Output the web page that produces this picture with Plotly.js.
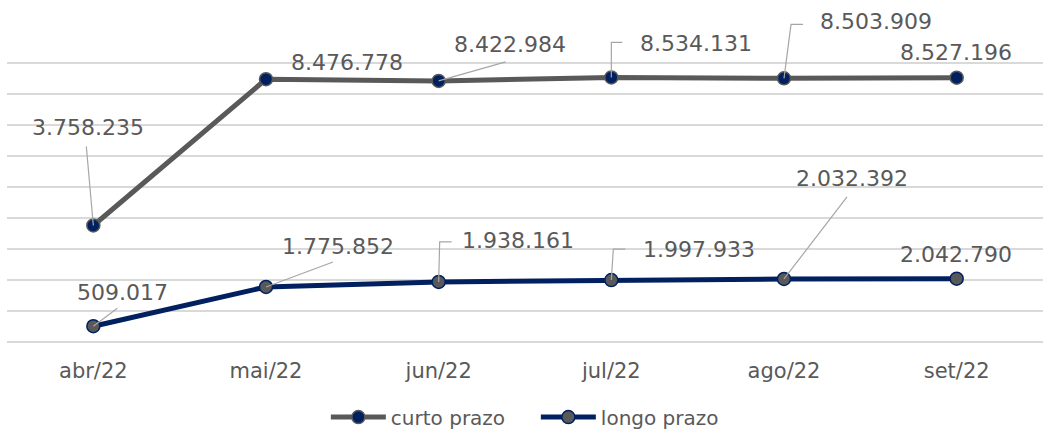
<!DOCTYPE html>
<html>
<head>
<meta charset="utf-8">
<script src="https://cdn.plot.ly/plotly-3.0.1.min.js"></script>
<style>html,body{margin:0;padding:0;background:#fff;}#chart{width:1059px;height:430px;}</style>
</head>
<body>
<div id="chart"></div>
<script>
const categories = ["abr/22", "mai/22", "jun/22", "jul/22", "ago/22", "set/22"];
const curtoPrazo = [3758235, 8476778, 8422984, 8534131, 8503909, 8527196];
const longoPrazo = [509017, 1775852, 1938161, 1997933, 2032392, 2042790];
const seriesNames = ["curto prazo", "longo prazo"];
const gridValues = [0, 1000000, 2000000, 3000000, 4000000, 5000000, 6000000, 7000000, 8000000, 9000000];

// label offsets (pixels) relative to each point
const curtoLabelShift = [[-5, 98], [81, 17], [71, 36], [85, 34], [92, 57], [-1, 25]];
const longoLabelShift = [[29, 34], [72, 40], [79, 41], [88, 31], [68, 100], [-1, 24]];
// leader line paths (pixels, relative to point); null = none
const curtoLeaders = ["M0,0 L-7,79", null, "M0,0 L67,19", "M0,0 L0,35 L11,35", "M0,0 L7,54 L19,54", null];
const longoLeaders = ["M0,0 L24,18", "M0,0 L67,25", "M0,0 L1,40 L13,40", "M0,0 L2,31 L14,31", "M0,0 L63,82", null];

const GRAY = "#595959", NAVY = "#002060";
const FONT = "DejaVu Sans";

function fmt(v) {
  return String(v).replace(/\B(?=(\d{3})+(?!\d))/g, ".");
}

const traces = [
  {
    x: categories, y: curtoPrazo, name: seriesNames[0], type: "scatter", mode: "lines+markers",
    line: {color: GRAY, width: 5},
    marker: {color: NAVY, size: 13, line: {color: GRAY, width: 1.5}},
    hoverinfo: "skip"
  },
  {
    x: categories, y: longoPrazo, name: seriesNames[1], type: "scatter", mode: "lines+markers",
    line: {color: NAVY, width: 5},
    marker: {color: GRAY, size: 13, line: {color: NAVY, width: 1.5}},
    hoverinfo: "skip"
  }
];

const annotations = [];
const shapes = [];
function addLabels(vals, shifts, leaders) {
  vals.forEach((v, i) => {
    annotations.push({
      x: categories[i], y: v, xref: "x", yref: "y", text: fmt(v), showarrow: false,
      xshift: shifts[i][0], yshift: shifts[i][1], xanchor: "center", yanchor: "middle",
      font: {family: FONT, size: 22, color: GRAY}
    });
    if (leaders[i]) {
      shapes.push({
        type: "path", xref: "x", yref: "y", xsizemode: "pixel", ysizemode: "pixel",
        xanchor: i, yanchor: v, path: leaders[i],
        line: {color: "#a6a6a6", width: 1.2}, layer: "above"
      });
    }
  });
}
addLabels(curtoPrazo, curtoLabelShift, curtoLeaders);
addLabels(longoPrazo, longoLabelShift, longoLeaders);

const layout = {
  width: 1059, height: 430,
  margin: {l: 7, r: 16, t: 0, b: 88},
  paper_bgcolor: "#ffffff", plot_bgcolor: "#ffffff",
  showlegend: true,
  legend: {orientation: "h", xref: "container", yref: "container", x: 0.506, xanchor: "center", y: 0.03, yanchor: "middle",
           font: {family: FONT, size: 20, color: GRAY}, itemwidth: 55, entrywidth: 140, entrywidthmode: "pixels", traceorder: "normal"},
  xaxis: {
    type: "category", range: [-0.5, 5.5], showgrid: false, zeroline: false, showline: false,
    ticks: "", ticklabelstandoff: 14, tickfont: {family: FONT, size: 21, color: GRAY}, fixedrange: true
  },
  yaxis: {
    range: [0, 11032000], tickmode: "array", tickvals: gridValues, showgrid: true, gridcolor: "#d9d9d9", gridwidth: 1.5,
    zeroline: true, zerolinecolor: "#d9d9d9", zerolinewidth: 1.5, showticklabels: false, ticks: "", fixedrange: true
  },
  annotations: annotations,
  shapes: shapes
};

Plotly.newPlot("chart", traces, layout, {displayModeBar: false, staticPlot: true});
</script>
</body>
</html>
